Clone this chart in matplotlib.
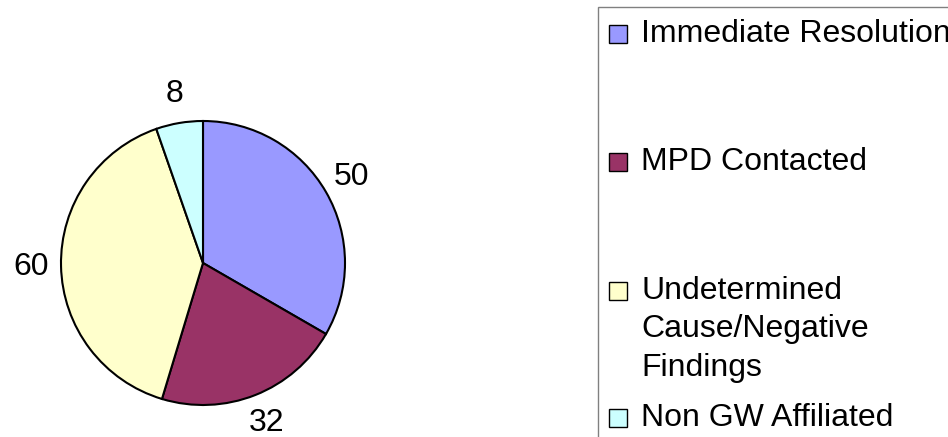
import matplotlib
matplotlib.use("Agg")
import matplotlib.pyplot as plt
from matplotlib.patches import Rectangle

plt.rcParams['font.family'] = ['Liberation Sans', 'DejaVu Sans']

categories = ["Immediate Resolution", "MPD Contacted",
              "Undetermined\nCause/Negative\nFindings", "Non GW Affiliated"]
values = [50, 32, 60, 8]
colors = ["#9999FF", "#993366", "#FFFFCC", "#CCFFFF"]

W, H = 948, 437
fig = plt.figure(figsize=(W / 100, H / 100), dpi=100)
fig.patch.set_facecolor("white")

cx, cy, r = 203, 263, 142
ax = fig.add_axes([(cx - r) / W, (H - cy - r) / H, 2 * r / W, 2 * r / H])
wedges, texts = ax.pie(values, colors=colors, startangle=90, counterclock=False,
                       labels=[str(v) for v in values], labeldistance=1.21,
                       wedgeprops=dict(edgecolor="black", linewidth=1.5),
                       textprops=dict(fontsize=23, color="black"))
for t in texts:
    t.set_ha("center")
    t.set_va("center")
ax.set_xlim(-1, 1)
ax.set_ylim(-1, 1)
ax.set_aspect("equal")
ax.axis("off")

# Legend box (extends beyond figure edges)
fig.patches.append(Rectangle((598 / W, -0.1), 0.5, (H - 7) / H + 0.1,
                             transform=fig.transFigure, facecolor="white",
                             edgecolor="#808080", linewidth=1.0, zorder=0))

# legend entries: text center y (px from top) of first line
entry_y = [34, 162, 291, 418]
line_gap = 38.5
for lab, col, y in zip(categories, colors, entry_y):
    fig.patches.append(Rectangle((609 / W, (H - y - 9) / H), 18 / W, 18 / H,
                                 transform=fig.transFigure, facecolor=col,
                                 edgecolor="black", linewidth=1.0, zorder=2))
    lines = lab.split("\n")
    for i, ln in enumerate(lines):
        fig.text(641 / W, (H - (y + i * line_gap)) / H, ln, fontsize=23,
                 ha="left", va="center", color="black")

fig.savefig("out.png", dpi=100)
